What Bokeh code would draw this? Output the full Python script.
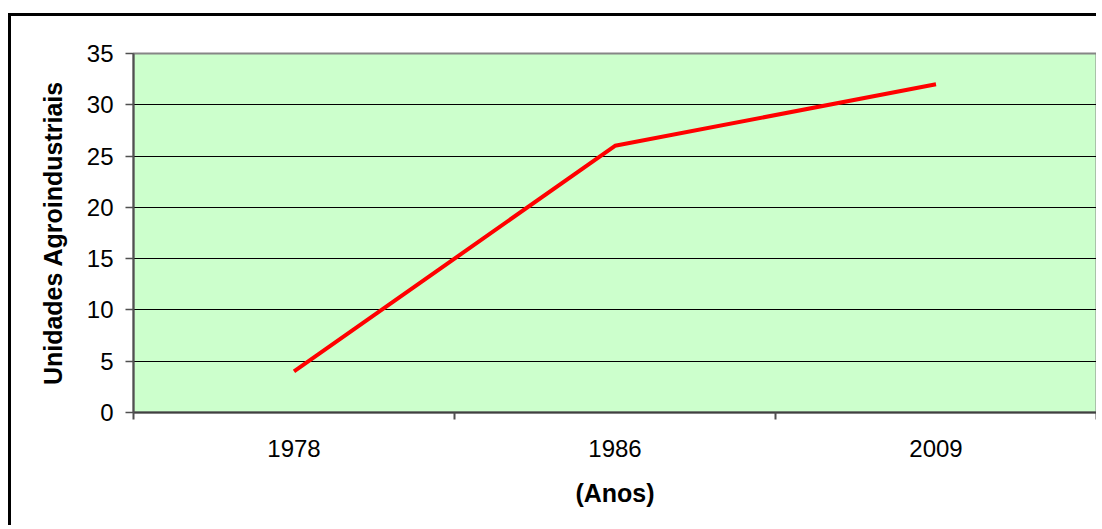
from bokeh.plotting import figure
from bokeh.models import FixedTicker, Range1d
from bokeh.embed import file_html
from bokeh.resources import INLINE

years = ["1978", "1986", "2009"]
units = [4, 26, 32]
y_ticks = [0, 5, 10, 15, 20, 25, 30, 35]

xs = [i + 0.5 for i in range(len(years))]

p = figure(width=1088, height=512, output_backend="svg", toolbar_location=None,
           x_range=Range1d(0, len(years)), y_range=Range1d(0, 35),
           min_border_left=122, min_border_top=37, min_border_right=3, min_border_bottom=116)
p.margin = (13, 0, 0, 8)
p.styles = {"border-left": "3px solid #000000", "border-top": "3px solid #000000"}

p.background_fill_color = "#CCFFCC"
p.border_fill_color = "#FFFFFF"
p.outline_line_color = "#868686"
p.outline_line_width = 2

p.line(xs, units, line_color="#FF0000", line_width=4)

FONT = "Liberation Sans"

# x axis
p.xaxis.ticker = FixedTicker(ticks=xs, minor_ticks=list(range(len(years) + 1)))
p.xaxis.major_label_overrides = {x: y for x, y in zip(xs, years)}
p.xaxis.major_tick_out = 0
p.xaxis.major_tick_in = 0
p.xaxis.minor_tick_out = 7
p.xaxis.minor_tick_in = 0
p.xaxis.minor_tick_line_color = "#505050"
p.xaxis.minor_tick_line_width = 2
p.xaxis.axis_line_color = "#404040"
p.xaxis.axis_line_width = 2
p.xaxis.major_label_text_font = FONT
p.xaxis.major_label_text_font_size = "24px"
p.xaxis.major_label_text_color = "#000000"
p.xaxis.major_label_standoff = 20
p.xaxis.axis_label = "(Anos)"
p.xaxis.axis_label_text_font = FONT
p.xaxis.axis_label_text_font_style = "bold"
p.xaxis.axis_label_text_font_size = "25px"
p.xaxis.axis_label_text_color = "#000000"
p.xaxis.axis_label_standoff = 19

# y axis
p.yaxis.ticker = FixedTicker(ticks=y_ticks)
p.yaxis.major_tick_out = 8
p.yaxis.major_tick_in = 0
p.yaxis.minor_tick_out = 0
p.yaxis.minor_tick_in = 0
p.yaxis.major_tick_line_color = "#505050"
p.yaxis.major_tick_line_width = 1.5
p.yaxis.axis_line_color = "#505050"
p.yaxis.axis_line_width = 2
p.yaxis.major_label_text_font = FONT
p.yaxis.major_label_text_font_size = "24px"
p.yaxis.major_label_text_color = "#000000"
p.yaxis.major_label_standoff = 12
p.yaxis.axis_label = "Unidades Agroindustriais"
p.yaxis.axis_label_text_font = FONT
p.yaxis.axis_label_text_font_style = "bold"
p.yaxis.axis_label_text_font_size = "25px"
p.yaxis.axis_label_text_color = "#000000"
p.yaxis.axis_label_standoff = 17

p.xgrid.visible = False
p.ygrid.ticker = FixedTicker(ticks=y_ticks)
p.ygrid.grid_line_color = "#000000"
p.ygrid.grid_line_width = 1.2

open("out.html", "w").write(file_html(p, INLINE))
